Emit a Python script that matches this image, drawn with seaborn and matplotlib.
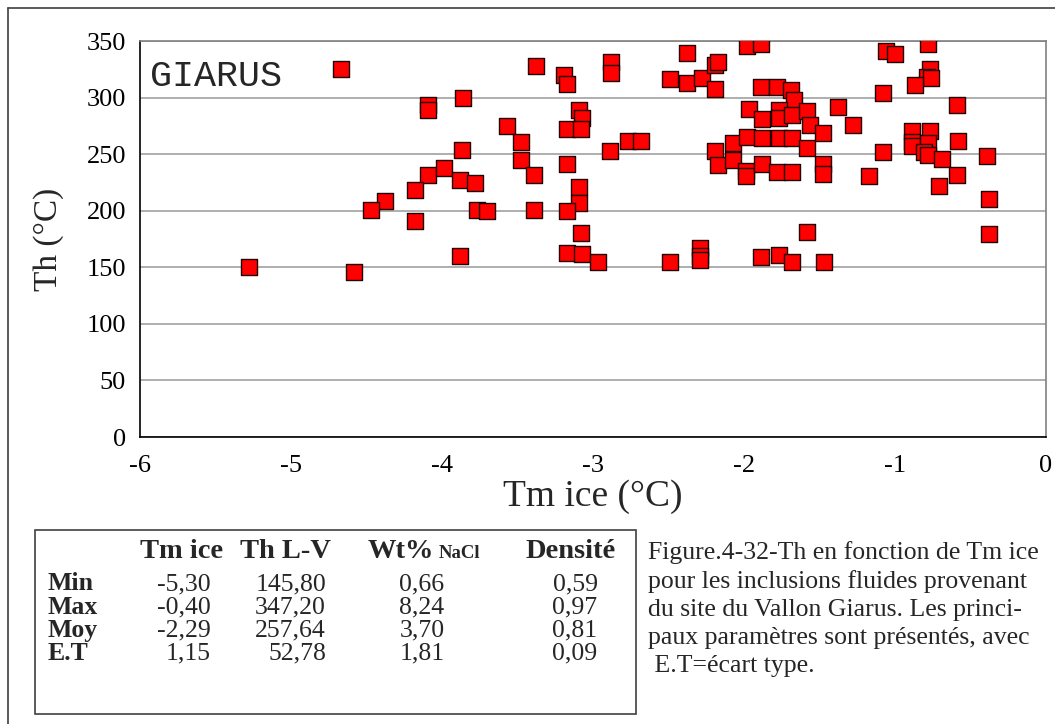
"""Th vs Tm ice scatter for the Vallon Giarus fluid inclusions"""

import matplotlib
matplotlib.use("Agg")
import matplotlib.pyplot as plt
import seaborn as sns
import pandas as pd

# Tm ice (°C) and Th L-V (°C)
tm_ice = [
    -4.67, -4.09, -4.09, -4.09, -4.18, -4.38, -4.47, -4.18, -5.28, -4.58,
    -3.38, -3.19, -3.17, -2.88, -2.88, -2.38, -2.49, -2.38, -2.28, -2.19,
    -2.17, -2.19, -3.86, -3.09, -3.07, -3.57, -3.17, -3.08, -3.48, -2.77,
    -2.68, -3.87, -2.89, -2.19, -2.07, -2.17, -2.07, -3.48, -3.99, -3.88,
    -3.78, -3.39, -3.17, -3.09, -3.09, -3.77, -3.70, -3.39, -3.17, -3.08,
    -3.88, -3.17, -3.07, -2.97, -2.49, -2.29, -2.29, -2.29,
    -1.98, -1.89, -1.06, -1.00, -0.78, -0.77, -0.79, -0.76, -0.87, -1.08,
    -1.89, -1.78, -1.69, -1.67, -1.97, -1.77, -1.88, -1.77, -1.68, -1.58,
    -1.38, -1.56, -1.48, -1.28, -0.59, -1.98, -1.88, -1.77, -1.68, -1.58,
    -0.89, -0.89, -0.89, -0.77, -0.78, -0.81, -0.78, -0.58, -1.08, -0.69,
    -0.39, -1.99, -1.99, -1.88, -1.78, -1.68, -1.48, -1.48, -1.17, -0.59,
    -0.71, -0.38, -1.58, -0.38, -1.89, -1.77, -1.68, -1.47,
]
th_lv = [
    325.0, 293.0, 289.0, 232.0, 218.0, 209.0, 200.6, 191.0, 150.5, 145.8,
    328.0, 320.0, 312.0, 331.0, 322.0, 339.0, 316.0, 313.0, 317.0, 329.0,
    331.0, 308.0, 300.0, 289.0, 282.0, 275.0, 272.0, 272.0, 261.0, 261.6,
    262.0, 253.7, 252.5, 252.5, 260.0, 240.0, 244.6, 245.0, 238.0, 227.0,
    224.5, 232.0, 241.0, 221.0, 207.0, 200.4, 199.7, 200.6, 199.7, 180.0,
    160.0, 163.0, 162.0, 155.0, 155.0, 166.8, 160.0, 156.4,
    345.8, 347.2, 341.0, 338.5, 347.0, 325.0, 318.5, 317.6, 310.7, 304.0,
    309.0, 309.0, 307.0, 297.5, 290.0, 289.0, 281.0, 282.0, 285.0, 288.0,
    292.0, 275.8, 268.7, 276.0, 293.0, 265.0, 264.0, 264.0, 264.0, 255.0,
    270.5, 261.0, 257.0, 270.7, 259.5, 252.0, 249.0, 262.0, 251.6, 246.0,
    248.4, 235.0, 231.0, 241.0, 234.0, 234.0, 241.3, 232.7, 231.0, 232.0,
    222.0, 210.7, 181.0, 179.0, 159.4, 161.0, 155.0, 155.0,
]

x_ticks = [-6, -5, -4, -3, -2, -1, 0]
y_ticks = [0, 50, 100, 150, 200, 250, 300, 350]

# summary table
stat_rows = ["Min", "Max", "Moy", "E.T"]
col_tm = ["-5,30", "-0,40", "-2,29", "1,15"]
col_th = ["145,80", "347,20", "257,64", "52,78"]
col_wt = ["0,66", "8,24", "3,70", "1,81"]
col_dens = ["0,59", "0,97", "0,81", "0,09"]

caption = [
    "Figure.4-32-Th en fonction de Tm ice",
    "pour les inclusions fluides provenant",
    "du site du Vallon Giarus. Les princi-",
    "paux paramètres sont présentés, avec",
    " E.T=écart type.",
]

sns.set_theme(style="white")
plt.rcParams["font.family"] = ["Liberation Serif", "DejaVu Serif"]

W, H = 1055, 724
fig = plt.figure(figsize=(W / 100, H / 100), dpi=100)
ax = fig.add_axes([140 / W, 1 - 437 / H, 906 / W, 396 / H])

df = pd.DataFrame({"tm": tm_ice, "th": th_lv})
sns.scatterplot(data=df, x="tm", y="th", marker="s", s=118, color="#ff0000",
                edgecolor="#200000", linewidth=1.0, ax=ax, zorder=3)

ax.set_xlim(-6, 0)
ax.set_ylim(0, 350)
ax.set_xticks(x_ticks)
ax.set_yticks(y_ticks)
ax.set_xticklabels([str(v) for v in x_ticks])
ax.set_yticklabels([str(v) for v in y_ticks])
ax.tick_params(axis="both", direction="out", length=8, width=1, colors="black",
               labelsize=19, pad=2)
ax.tick_params(axis="x", pad=5)
ax.grid(axis="y", color="#a8a8a8", linewidth=1.3)
ax.set_axisbelow(True)
for side in ["top", "right"]:
    ax.spines[side].set_color("#808080")
    ax.spines[side].set_linewidth(1.2)
for side in ["left", "bottom"]:
    ax.spines[side].set_color("black")
    ax.spines[side].set_linewidth(1.2)

ax.set_xlabel("Tm ice (°C)", fontsize=27, labelpad=2)
ax.set_ylabel("Th (°C)", fontsize=24, labelpad=16)

ax.text(0.011, 0.91, "GIARUS", transform=ax.transAxes, fontsize=26.5,
        family="Liberation Mono", va="center", ha="left")

# page frame lines (left and top only)
fig.add_artist(plt.Line2D([8 / W, 8 / W], [0, 1 - 8 / H], transform=fig.transFigure,
                          color="#404040", linewidth=1.2))
fig.add_artist(plt.Line2D([8 / W, 1], [1 - 8 / H, 1 - 8 / H], transform=fig.transFigure,
                          color="#404040", linewidth=1.2))

# table box
box = plt.Rectangle((35 / W, 1 - 714 / H), 601 / W, 184 / H, transform=fig.transFigure,
                    fill=False, edgecolor="#404040", linewidth=1.2)
fig.add_artist(box)


def fx(px):
    return px / W


def fy(py):
    return 1 - py / H


hsize = 20.5
bsize = 18.5
tsize = 18.5
fig.text(fx(182), fy(552), "Tm ice", ha="center", va="center", fontsize=hsize, weight="bold")
fig.text(fx(286), fy(552), "Th L-V", ha="center", va="center", fontsize=hsize, weight="bold")
fig.text(fx(434), fy(552), "Wt%", ha="right", va="center", fontsize=hsize, weight="bold")
fig.text(fx(439), fy(554), "NaCl", ha="left", va="center", fontsize=13.5, weight="bold")
fig.text(fx(571), fy(552), "Densité", ha="center", va="center", fontsize=hsize, weight="bold")

row_y = [584, 607, 630, 653]
for i, yy in enumerate(row_y):
    fig.text(fx(48), fy(yy), stat_rows[i], ha="left", va="center", fontsize=bsize, weight="bold")
    fig.text(fx(211), fy(yy), col_tm[i], ha="right", va="center", fontsize=tsize)
    fig.text(fx(326), fy(yy), col_th[i], ha="right", va="center", fontsize=tsize)
    fig.text(fx(422), fy(yy), col_wt[i], ha="center", va="center", fontsize=tsize)
    fig.text(fx(575), fy(yy), col_dens[i], ha="center", va="center", fontsize=tsize)

cap_y = [553, 582, 610, 638, 666]
for line, yy in zip(caption, cap_y):
    fig.text(fx(648), fy(yy), line, ha="left", va="center", fontsize=18.5)

plt.savefig("out.png", dpi=100)
plt.close()
